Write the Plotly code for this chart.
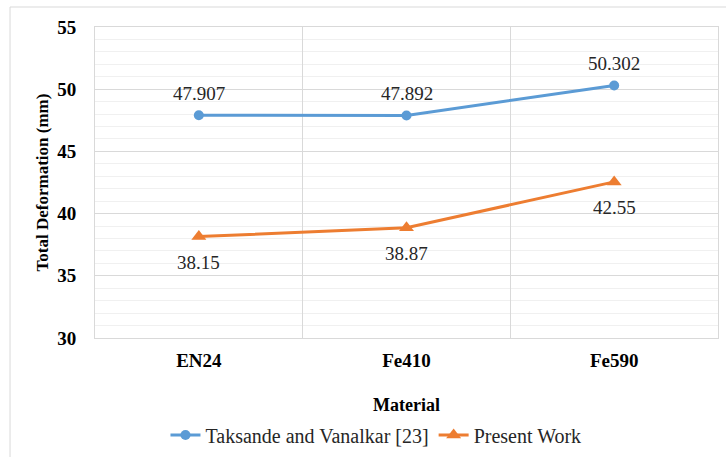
import plotly.graph_objects as go

materials = ["EN24", "Fe410", "Fe590"]
taksande = [47.907, 47.892, 50.302]
present = [38.15, 38.87, 42.55]
taksande_labels = ["47.907", "47.892", "50.302"]
present_labels = ["38.15", "38.87", "42.55"]

SERIF = "Liberation Serif"
BLUE = "#5B9BD5"
ORANGE = "#ED7D31"

fig = go.Figure()
fig.add_trace(go.Scatter(
    x=materials, y=taksande, name="Taksande and Vanalkar [23]",
    mode="lines+markers",
    line=dict(color=BLUE, width=3), marker=dict(symbol="circle", size=10, color=BLUE),
    cliponaxis=False,
))
fig.add_trace(go.Scatter(
    x=materials, y=present, name="Present Work",
    mode="lines+markers",
    line=dict(color=ORANGE, width=3), marker=dict(symbol="triangle-up", size=13, color=ORANGE),
    cliponaxis=False,
))

annotations = []
for m, v, t in zip(materials, taksande, taksande_labels):
    annotations.append(dict(x=m, y=v, xref="x", yref="y", text=t, showarrow=False,
                            yshift=22, font=dict(family=SERIF, size=19, color="#262626")))
for m, v, t in zip(materials, present, present_labels):
    annotations.append(dict(x=m, y=v, xref="x", yref="y", text=t, showarrow=False,
                            yshift=-26, font=dict(family=SERIF, size=19, color="#262626")))

fig.update_layout(
    width=726, height=457,
    margin=dict(l=95, r=8, t=27, b=119, autoexpand=False),
    paper_bgcolor="white", plot_bgcolor="white",
    showlegend=True,
    legend=dict(orientation="h", x=0.451, xanchor="center", y=-0.312, yanchor="middle",
                font=dict(family=SERIF, size=20, color="#262626"),
                itemwidth=30, tracegroupgap=0),
    annotations=annotations,
    shapes=[dict(type="rect", xref="paper", yref="paper",
                 x0=-0.1364, x1=1.08, y0=-0.5, y1=1.0643,
                 line=dict(color="#d9d9d9", width=1), layer="below")],
)
fig.update_xaxes(
    type="category", range=[-0.5, 2.5], tickson="boundaries",
    showgrid=True, gridcolor="#d9d9d9", gridwidth=1,
    showline=True, linecolor="#d9d9d9", linewidth=1, mirror=True,
    ticks="", ticklabelstandoff=5, automargin=False,
    tickfont=dict(family=SERIF, size=19, color="#000000", weight="bold"),
    title=dict(text="<b>Material</b>", font=dict(family=SERIF, size=18, color="#000000"), standoff=28),
    zeroline=False,
)
fig.update_yaxes(
    range=[30, 55], dtick=5, tick0=30,
    showgrid=True, gridcolor="#d9d9d9", gridwidth=1,
    minor=dict(dtick=1, showgrid=True, gridcolor="#f0f0f0", gridwidth=1),
    showline=True, linecolor="#d9d9d9", linewidth=1, mirror=True,
    ticks="", ticklabelstandoff=14, automargin=False,
    tickfont=dict(family=SERIF, size=19, color="#000000", weight="bold"),
    title=dict(text="<b>Total Deformation (mm)</b>", font=dict(family=SERIF, size=17, color="#000000"), standoff=4),
    zeroline=False,
)

fig.write_html("out.html")
